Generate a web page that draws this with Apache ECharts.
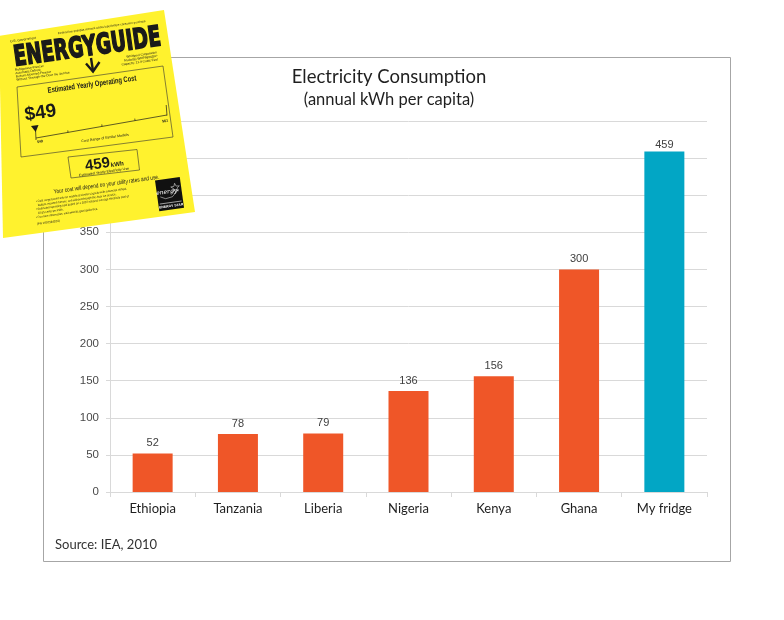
<!DOCTYPE html>
<html><head><meta charset="utf-8">
<script src="https://cdn.jsdelivr.net/npm/echarts/dist/echarts.min.js"></script>
<style>html,body{margin:0;padding:0;background:#fff}#c{width:784px;height:620px}</style>
</head><body><div id="c"></div>
<script>
// ---- data ----
const categories = ['Ethiopia', 'Tanzania', 'Liberia', 'Nigeria', 'Kenya', 'Ghana', 'My fridge'];
const values = [52, 78, 79, 136, 156, 300, 459];
const highlight = 'My fridge';
const yMin = 0, yMax = 500, yStep = 50;
const titleText = 'Electricity Consumption';
const subtitleText = '(annual kWh per capita)';
const sourceText = 'Source: IEA, 2010';

// ---- styles ----
const ORANGE = '#ef5628', TEAL = '#02a6c5', GRID = '#d9d9d9';
const SANS = '"Liberation Sans", Arial, sans-serif';
const GEO = 'Lato, "Noto Sans", sans-serif';

// ---- decorative EnergyGuide label (graphic elements) ----
const R = 8 * Math.PI / 180;
const Z = 100;
const g = [];
function txt(x, y, text, size, o = {}) {
  const font = (o.it ? 'italic ' : '') + (o.w || 'normal') + ' ' + size + 'px ' + (o.f || SANS);
  const st = { text, font, fill: o.c || '#1a1a1a', textAlign: o.a || 'left', align: o.a || 'left',
    textVerticalAlign: 'middle', verticalAlign: 'middle' };
  if (o.s) { st.stroke = o.s; st.lineWidth = o.lw || 1; }
  g.push({ type: 'text', x, y, rotation: (o.rot !== undefined ? o.rot : R), scaleX: o.sx || 1,
    z: Z + 3, silent: true, style: st });
}
function poly(points, o = {}) {
  g.push({ type: 'polygon', z: Z + (o.z || 1), silent: true, shape: { points },
    style: { fill: o.fill || 'none', stroke: o.stroke || null, lineWidth: o.lw || 0 } });
}
function pline(points, o = {}) {
  g.push({ type: 'polyline', z: Z + (o.z || 2), silent: true, shape: { points },
    style: { fill: 'none', stroke: o.stroke || '#1a1a1a', lineWidth: o.lw || 0.7 } });
}

// chart frame
g.push({ type: 'rect', z: 0, silent: true, shape: { x: 43.5, y: 57.5, width: 687, height: 504 },
  style: { fill: 'none', stroke: '#a6a6a6', lineWidth: 1 } });

// yellow sheet
poly([[-1, 36], [164, 10], [195, 212], [3, 238]], { fill: '#fff22e', z: 0 });
txt(10, 41.5, 'U.S. Government', 3.4);
txt(58, 33.5, 'Federal law prohibits removal of this label before consumer purchase.', 2.9);
txt(14, 58.5, 'ENERGYGUIDE', 28, { w: 'bold', f: '"DejaVu Sans", sans-serif', sx: 0.66, s: '#1a1a1a', lw: 1.7 });
pline([[91, 58], [93, 71]], { lw: 2.4 });
pline([[86, 63.5], [93, 71.5], [99.5, 62]], { lw: 2.4 });
txt(15, 70, 'Refrigerator-Freezer', 3.2);
txt(15.5, 73.3, 'Automatic Defrost', 3.2);
txt(16, 76.6, 'Bottom-Mounted Freezer', 3.2);
txt(16.5, 79.9, 'Without Through-the-Door Ice Service', 3.2);
txt(157, 52.5, 'Whirlpool Corporation', 3.2, { a: 'right' });
txt(157.5, 56, 'Model(s) WRF989SDA*', 3.2, { a: 'right' });
txt(158, 59.5, 'Capacity: 21.9 Cubic Feet', 3.2, { a: 'right' });
poly([[17, 87], [163, 66], [173, 137], [21, 157]], { stroke: '#333', lw: 0.6 });
txt(92, 84.5, 'Estimated Yearly Operating Cost', 8, { w: 'bold', a: 'center', sx: 0.72 });
txt(40.5, 113, '$49', 19, { w: 'bold', a: 'center' });
poly([[31, 126], [38.5, 125], [35.7, 132]], { fill: '#1a1a1a' });
pline([[35.6, 131], [36, 140]]);
pline([[36, 138], [167, 115]]);
pline([[68, 132.4], [67.8, 130.4]]);
pline([[102, 126.4], [101.8, 124.4]]);
pline([[135, 120.6], [134.8, 118.6]]);
pline([[166.2, 105], [167, 115.5]]);
txt(37, 142, '$49', 3.6, { w: 'bold' });
txt(165, 121, '$61', 3.6, { w: 'bold', a: 'center' });
txt(105, 138, 'Cost Range of Similar Models', 3.6, { a: 'center' });
poly([[68, 157], [137, 149.5], [139.5, 170], [71, 178]], { stroke: '#333', lw: 0.6 });
txt(110, 162.8, '459', 15, { w: 'bold', a: 'right' });
txt(110.8, 165.3, 'kWh', 6.2, { w: 'bold' });
txt(104, 172, 'Estimated Yearly Electricity Use', 3.6, { a: 'center' });
txt(106.5, 184.5, 'Your cost will depend on your utility rates and use.', 6, { a: 'center', sx: 0.8 });
txt(36, 201.5, '• Cost range based only on models of similar capacity with automatic defrost,', 3, { sx: 0.9 });
txt(38, 205.3, 'bottom-mounted freezer, and without through-the-door ice service.', 3, { sx: 0.9 });
txt(36, 209.3, '• Estimated operating cost based on a 2007 national average electricity cost of', 3, { sx: 0.9 });
txt(38, 213.1, '10.65 cents per kWh.', 3, { sx: 0.9 });
txt(36, 217.5, '• For more information, visit www.ftc.gov/appliances.', 3, { sx: 0.9 });
txt(37, 224, '(PN W10184202)', 3);
// Energy Star logo
(function () {
  const cx = Math.cos(R), sn = Math.sin(R);
  const o = [155, 180.5];
  const P = (u, v) => [o[0] + u * cx + v * sn, o[1] - u * sn + v * cx];
  poly([P(0, 0), P(25, 0), P(25, 31), P(0, 31)], { fill: '#111', z: 2 });
  pline([P(1.5, 24), P(23.5, 24)], { stroke: '#fff', lw: 0.6, z: 3 });
  txt(P(12.5, 27.5)[0], P(12.5, 27.5)[1], 'ENERGY STAR', 3.4, { w: 'bold', a: 'center', c: '#fff' });
  txt(P(10, 13)[0], P(10, 13)[1], 'energy', 6, { it: true, a: 'center', c: '#fff', f: '"DejaVu Serif", serif' });
  const star = [];
  const sc = P(19, 10);
  for (let k = 0; k < 10; k++) {
    const a = -Math.PI / 2 + k * Math.PI / 5 - R;
    const r = k % 2 === 0 ? 4.5 : 1.9;
    star.push([sc[0] + r * Math.cos(a), sc[1] + r * Math.sin(a)]);
  }
  poly(star, { stroke: '#fff', lw: 0.5, z: 3 });
  pline([P(3, 17), P(8, 19.5), P(15, 18.5), P(22, 12)], { stroke: '#fff', lw: 0.5, z: 3 });
})();

// ---- chart ----
const hiIdx = categories.indexOf(highlight);
const seriesData = values.map((v, i) => ({
  value: v,
  itemStyle: { color: i === hiIdx ? TEAL : ORANGE },
  label: i === hiIdx ? { distance: 1 } : undefined
}));

const chart = echarts.init(document.getElementById('c'), null, { renderer: 'canvas' });
chart.setOption({
  animation: false,
  backgroundColor: '#fff',
  title: [
    { text: titleText, left: 389, top: 67.5, textAlign: 'center', padding: 0,
      textStyle: { fontFamily: GEO, fontSize: 18.5, fontWeight: 'normal', color: '#1f1f1f' } },
    { text: subtitleText, left: 389, top: 91.5, textAlign: 'center', padding: 0,
      textStyle: { fontFamily: GEO, fontSize: 16.5, fontWeight: 'normal', color: '#1f1f1f' } },
    { text: sourceText, left: 55, top: 538, padding: 0,
      textStyle: { fontFamily: GEO, fontSize: 13, fontWeight: 'normal', color: '#333' } }
  ],
  grid: { left: 110, right: 77, top: 121, bottom: 128, containLabel: false },
  xAxis: {
    type: 'category', data: categories,
    axisLine: { lineStyle: { color: GRID, width: 1 } },
    axisTick: { show: true, length: 5, lineStyle: { color: GRID } },
    axisLabel: { margin: 10, fontFamily: GEO, fontSize: 13, color: '#1f1f1f' }
  },
  yAxis: {
    type: 'value', min: yMin, max: yMax, interval: yStep,
    axisLine: { show: true, lineStyle: { color: GRID, width: 1 } },
    axisTick: { show: true, length: 4, lineStyle: { color: GRID } },
    axisLabel: { margin: 11, fontFamily: SANS, fontSize: 11.5, color: '#4a4a4a' },
    splitLine: { lineStyle: { color: GRID, width: 1 } }
  },
  series: [{
    type: 'bar', data: seriesData, barWidth: 40,
    label: { show: true, position: 'top', distance: 5, fontFamily: SANS, fontSize: 11, color: '#404040' }
  }],
  graphic: { elements: g }
});
</script>
</body></html>
